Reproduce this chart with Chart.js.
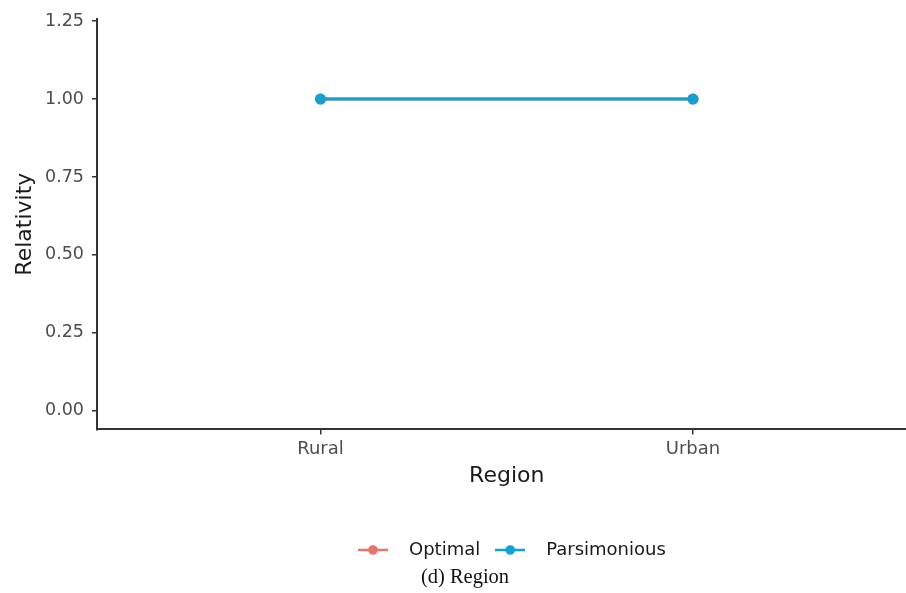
<!DOCTYPE html>
<html>
<head>
<meta charset="utf-8">
<script src="https://cdn.jsdelivr.net/npm/chart.js@4/dist/chart.umd.min.js"></script>
<style>
  html, body { margin: 0; padding: 0; background: #ffffff; overflow: hidden; width: 906px; height: 593px; }
  canvas { display: block; }
</style>
</head>
<body>
<!-- the plot panel runs a little past the right edge of the page, so the canvas is slightly wider than the view -->
<canvas id="chart" width="922" height="593"></canvas>
<script>
// Relativity by region for the two model variants
const categories = ['Rural', 'Urban'];
const optimal = [1.00, 1.00];
const parsimonious = [1.00, 1.00];
const seriesNames = ['Optimal', 'Parsimonious'];
const seriesColors = ['#E8756C', '#13A0D5'];
const yTickValues = [0, 0.25, 0.5, 0.75, 1.0, 1.25];
const yTickLabels = ['0.00', '0.25', '0.50', '0.75', '1.00', '1.25'];

const SANS = '"DejaVu Sans", "Liberation Sans", Arial, sans-serif';
const SERIF = '"Liberation Serif", "Times New Roman", serif';

// legend key: short line with a dot in the middle
function legendIcon(color) {
  const c = document.createElement('canvas');
  c.width = 30; c.height = 14;
  const g = c.getContext('2d');
  g.strokeStyle = color;
  g.lineWidth = 2.5;
  g.beginPath(); g.moveTo(0, 7); g.lineTo(30, 7); g.stroke();
  g.fillStyle = color;
  g.beginPath(); g.arc(15, 7, 4.8, 0, Math.PI * 2); g.fill();
  return c;
}
const legendIcons = seriesColors.map(legendIcon);

const toPoints = vals => vals.map((v, i) => ({ x: i, y: v }));

// moves the legend row and the caption to their final spots after layout
const placeLegendAndCaption = {
  id: 'placeLegendAndCaption',
  afterLayout(chart) {
    const lg = chart.legend;
    if (lg && lg.lineWidths) {
      const pad = lg.options.labels.padding;
      const start = (lg.left + pad + lg.right - lg.lineWidths[0]) / 2;
      const dx = 346 - start;
      const dy = 3.6;
      lg.left += dx; lg.right += dx; lg.top += dy; lg.bottom += dy;
    }
    const tb = chart.titleBlock;
    if (tb) {
      const dx = 465 - (tb.left + tb.right) / 2;
      tb.left += dx; tb.right += dx;
    }
  }
};

new Chart(document.getElementById('chart'), {
  type: 'line',
  data: {
    datasets: [
      {
        label: seriesNames[0],
        data: toPoints(optimal),
        borderColor: seriesColors[0],
        backgroundColor: seriesColors[0],
        pointBackgroundColor: seriesColors[0],
        borderWidth: 3,
        pointRadius: 5.5,
        pointBorderWidth: 0,
        fill: false,
        tension: 0,
        order: 1
      },
      {
        label: seriesNames[1],
        data: toPoints(parsimonious),
        borderColor: seriesColors[1],
        backgroundColor: seriesColors[1],
        pointBackgroundColor: seriesColors[1],
        borderWidth: 3,
        pointRadius: 5.5,
        pointBorderWidth: 0,
        fill: false,
        tension: 0,
        order: 0
      }
    ]
  },
  options: {
    responsive: false,
    animation: false,
    devicePixelRatio: 1,
    layout: { padding: { left: 10, top: 19, right: 0, bottom: 0 } },
    scales: {
      x: {
        type: 'linear',
        min: -0.6,
        max: 1.6,
        afterBuildTicks: s => { s.ticks = categories.map((_, i) => ({ value: i })); },
        afterFit: s => { s.height = 105; },
        ticks: {
          callback: v => categories[v],
          font: { family: SANS, size: 18 },
          color: '#4d4d4d',
          padding: 4,
          maxRotation: 0,
          autoSkip: false
        },
        grid: { drawOnChartArea: false, drawTicks: true, tickLength: 5, color: '#333333', lineWidth: 1.5 },
        border: { display: true, color: '#333333', width: 2 },
        title: {
          display: true,
          text: 'Region',
          font: { family: SANS, size: 22 },
          color: '#1a1a1a',
          padding: { top: 0, bottom: 45 }
        }
      },
      y: {
        type: 'linear',
        min: -0.06,
        max: 1.257,
        afterBuildTicks: s => { s.ticks = yTickValues.map(v => ({ value: v })); },
        afterFit: s => { s.width = 87; },
        ticks: {
          callback: (v, i) => yTickLabels[i],
          font: { family: SANS, size: 17.5 },
          color: '#4d4d4d',
          padding: 8
        },
        grid: { drawOnChartArea: false, drawTicks: true, tickLength: 5, color: '#333333', lineWidth: 1.5 },
        border: { display: true, color: '#333333', width: 2 },
        title: {
          display: true,
          text: 'Relativity',
          font: { family: SANS, size: 22 },
          color: '#1a1a1a',
          padding: { top: 2, bottom: 0 }
        }
      }
    },
    plugins: {
      tooltip: { enabled: false },
      legend: {
        display: true,
        position: 'bottom',
        labels: {
          usePointStyle: true,
          pointStyleWidth: 54,
          padding: 3,
          font: { family: SANS, size: 18 },
          color: '#1a1a1a',
          generateLabels: chart => chart.data.datasets.map((ds, i) => ({
            text: ds.label,
            fillStyle: seriesColors[i],
            strokeStyle: seriesColors[i],
            lineWidth: 0,
            pointStyle: legendIcons[i],
            hidden: false,
            datasetIndex: i,
            fontColor: '#1a1a1a'
          }))
        }
      },
      title: {
        display: true,
        position: 'bottom',
        text: '(d) Region',
        font: { family: SERIF, size: 20.5, weight: 'normal' },
        color: '#111111',
        padding: { top: 0, bottom: 3 }
      }
    }
  },
  plugins: [placeLegendAndCaption]
});
</script>
</body>
</html>
